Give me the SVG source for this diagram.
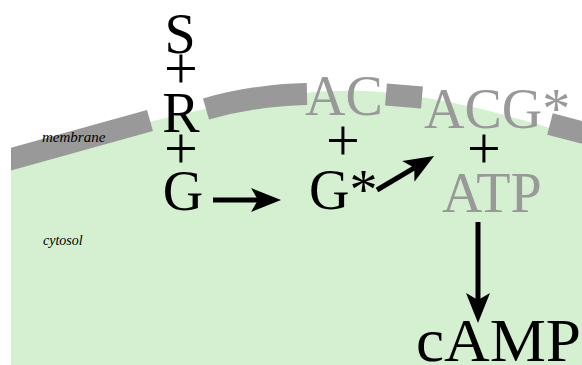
<svg xmlns="http://www.w3.org/2000/svg" width="582" height="365" viewBox="0 0 582 365">
<style>
.big{font-family:"Liberation Serif","Times New Roman",serif;font-size:56px;fill:#000}
.gray{fill:#999999}
.plus{font-family:"Liberation Serif","Times New Roman",serif;font-size:60px;fill:#000;text-anchor:middle}
.lbl{font-family:"Liberation Serif","Times New Roman",serif;font-style:italic;font-size:15px;fill:#000}
.mem{fill:none;stroke:#999999;stroke-width:22;stroke-linecap:butt}
.arr{fill:none;stroke:#000;stroke-width:5;marker-end:url(#head)}
</style>
<defs>
<marker id="head" markerUnits="userSpaceOnUse" orient="auto" overflow="visible" markerWidth="40" markerHeight="30" refX="0" refY="0">
<path d="M23,0 L-7,-12 L0,0 L-7,12 Z" fill="#000"/>
</marker>
<clipPath id="clipL"><rect x="11" y="0" width="571" height="365"/></clipPath>
</defs>
<g id="cytosol-region">
<path d="M11,160 C200,105 300,85 380,92 C450,98 520,118 582,138 L582,365 L11,365 Z" fill="#d4f0d0"/>
</g>
<g id="membrane" clip-path="url(#clipL)">
<path class="mem" d="M4,161 L150,120.5"/>
<path class="mem" d="M206,109 Q255,95 307,94"/>
<path class="mem" d="M386,94.5 L422,97.5"/>
<path class="mem" d="M550,124 L592,135"/>
</g>
<g id="labels">
<text class="lbl" x="42" y="142">membrane</text>
<text class="lbl" x="43" y="245" style="font-size:14px">cytosol</text>
</g>
<g id="node-S"><text class="big" x="180" y="53" text-anchor="middle">S</text></g>
<g id="plus-1"><text class="plus" x="181" y="88">+</text></g>
<g id="node-R"><text class="big" x="181" y="132" text-anchor="middle">R</text></g>
<g id="plus-2"><text class="plus" x="181" y="168">+</text></g>
<g id="node-G"><text class="big" x="183" y="210" text-anchor="middle">G</text></g>
<g id="node-AC"><text class="big gray" x="305" y="115">AC</text></g>
<g id="plus-3"><text class="plus" x="343" y="160">+</text></g>
<g id="node-Gstar"><text class="big" x="309" y="209">G*</text></g>
<g id="node-ACGstar"><text class="big gray" x="424" y="128">ACG*</text></g>
<g id="plus-4"><text class="plus" x="484" y="168">+</text></g>
<g id="node-ATP"><text class="big gray" x="442" y="212">ATP</text></g>
<g id="node-cAMP"><text class="big" x="416" y="361" style="font-size:62px" textLength="165" lengthAdjust="spacingAndGlyphs">cAMP</text></g>
<g id="connectors">
<path class="arr" d="M213,200 L258,200"/>
<path class="arr" d="M377,190 L414.3,167.8"/>
<path class="arr" d="M478,222 L478,300"/>
</g>
</svg>
